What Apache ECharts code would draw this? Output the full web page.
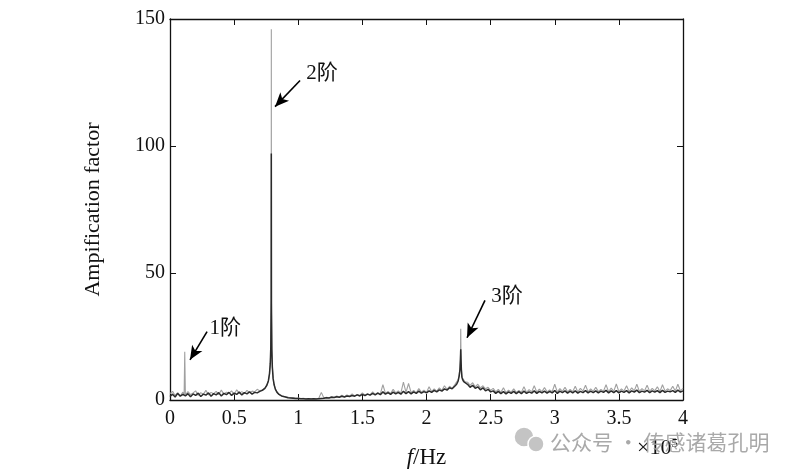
<!DOCTYPE html>
<html>
<head>
<meta charset="utf-8">
<script src="https://cdn.jsdelivr.net/npm/echarts/dist/echarts.min.js"></script>
<style>
html,body{margin:0;padding:0;background:#fff;}
#main{width:807px;height:476px;}
</style>
</head>
<body>
<div id="main"></div>
<script>
// frequency (x10^5 Hz)
var freq=[0,0.02,0.04,0.06,0.08,0.10,0.11,0.115,0.12,0.14,0.16,0.18,0.20,0.22,0.24,0.26,0.28,0.30,0.32,0.34,0.36,0.38,0.40,0.42,0.44,0.46,0.48,0.50,0.52,0.54,0.56,0.58,0.60,0.62,0.64,0.66,0.68,0.70,
    0.72,0.74,0.755,0.767,0.776,0.782,0.786,0.789,0.790,0.791,0.794,0.798,0.804,0.812,0.822,0.835,0.85,0.87,
    0.90,0.92,0.94,0.96,0.98,1.00,1.02,1.04,1.06,1.08,1.10,1.12,1.14,1.16,1.18,1.20,
    1.22,1.24,1.26,1.28,1.30,1.32,1.34,1.36,1.38,1.40,1.42,1.44,1.46,1.48,1.50,1.52,1.54,1.56,1.58,1.60,
    1.62,1.64,1.66,1.68,1.70,1.72,1.74,1.76,1.78,1.80,1.82,1.84,1.86,1.88,1.90,1.92,1.94,1.96,1.98,2.00,
    2.02,2.04,2.06,2.08,2.10,2.12,2.14,2.16,2.18,2.20,2.22,
    2.235,2.247,2.255,2.261,2.265,2.267,2.269,2.272,2.276,2.282,2.29,2.30,
    2.32,2.34,2.36,2.38,2.40,2.42,2.44,2.46,2.48,2.50,
    2.52,2.54,2.56,2.58,2.60,2.62,2.64,2.66,2.68,2.70,
    2.72,2.74,2.76,2.78,2.80,2.82,2.84,2.86,2.88,2.90,
    2.92,2.94,2.96,2.98,3.00,3.02,3.04,3.06,3.08,3.10,
    3.12,3.14,3.16,3.18,3.20,3.22,3.24,3.26,3.28,3.30,
    3.32,3.34,3.36,3.38,3.40,3.42,3.44,3.46,3.48,3.50,
    3.52,3.54,3.56,3.58,3.60,3.62,3.64,3.66,3.68,3.70,
    3.72,3.74,3.76,3.78,3.80,3.82,3.84,3.86,3.88,3.90,
    3.92,3.94,3.96,3.98,4.00];
// light grey curve
var greyVal=[2.5,3.4,1.8,2.9,1.6,3.1,2.0,19.0,1.9,3.3,2.1,2.8,3.6,1.8,2.9,2.2,3.8,2.0,3.0,2.5,3.4,2.1,3.9,2.3,3.1,2.6,3.6,2.2,4.0,2.7,3.3,2.5,3.8,2.9,3.5,3.2,4.2,3.6,
    4.0,4.8,5.8,7.5,10,14,20,35,146,35,20,13,8.5,6,4.2,3.0,2.2,1.6,
    1.3,1.1,0.9,1.0,0.7,0.8,0.6,0.7,0.5,0.6,0.5,0.6,0.5,0.7,3.0,0.8,
    1.1,0.9,1.4,1.0,1.6,1.2,1.9,1.3,2.0,1.5,2.4,1.6,2.2,1.8,2.8,1.9,2.5,2.0,3.2,2.2,
    2.9,2.4,6.0,2.6,3.4,2.5,4.2,2.8,3.6,2.7,7.0,3.0,6.5,2.9,3.8,2.8,4.5,3.1,3.9,3.0,
    5.2,3.3,4.4,3.5,4.8,3.8,5.6,4.2,5.4,4.6,6.0,
    6.5,8,10,13,18,28,18,12,9.5,8.5,7.8,7.2,
    7.0,5.8,6.8,5.2,6.2,4.8,5.6,4.4,5.0,3.8,
    4.6,3.2,4.2,3.0,4.8,2.9,3.9,3.1,4.4,3.0,
    3.8,3.1,5.2,3.0,4.1,3.2,5.6,3.1,4.3,3.3,
    4.9,3.2,4.0,3.3,6.2,3.1,4.5,3.4,5.0,3.2,
    4.2,3.3,5.4,3.1,4.6,3.5,5.8,3.2,4.4,3.4,
    5.0,3.3,4.2,3.5,6.0,3.2,4.7,3.4,6.3,3.3,
    4.4,3.5,5.6,3.3,4.8,3.6,6.2,3.4,4.5,3.6,
    5.8,3.4,4.6,3.6,5.2,3.3,6.0,3.5,4.4,3.7,
    5.4,3.5,6.2,3.6,4.6];
// dark curve
var darkVal=[1.4,2.3,1.2,2.6,1.5,2.2,1.7,2.0,1.6,2.5,1.3,2.4,1.8,2.7,1.4,2.3,1.9,2.8,1.5,2.5,2.0,2.9,1.6,2.6,2.1,3.0,1.8,2.7,2.2,3.1,2.0,2.9,2.4,3.2,2.3,3.0,2.8,3.4,
    3.8,4.6,5.8,7.5,10.5,14.5,21,40,97,38,20,13,8.5,6,4.2,3.0,2.2,1.6,
    1.2,0.9,0.8,0.7,0.6,0.6,0.5,0.5,0.4,0.5,0.4,0.5,0.4,0.5,0.6,0.7,
    0.9,0.8,1.1,1.0,1.3,1.1,1.5,1.2,1.6,1.4,1.8,1.5,2.0,1.6,2.2,1.7,2.3,1.9,2.6,2.0,
    2.7,2.1,3.2,2.3,2.9,2.2,3.1,2.4,3.0,2.3,3.4,2.5,3.3,2.4,3.2,2.6,3.5,2.7,3.3,2.8,
    3.6,3.0,3.8,3.2,4.0,3.5,4.4,3.9,4.8,4.4,5.4,
    6.2,7.5,9.5,12,16,20,16,12,9,8,7.2,6.8,
    6.2,5.0,5.8,4.6,5.2,4.0,4.8,3.6,4.2,3.2,
    3.6,2.6,3.4,2.5,3.3,2.4,3.2,2.6,3.4,2.5,
    3.3,2.5,3.5,2.6,3.2,2.7,3.6,2.6,3.4,2.8,
    3.5,2.7,3.4,2.8,3.7,2.6,3.5,2.9,3.6,2.7,
    3.5,2.8,3.6,2.7,3.4,2.9,3.7,2.8,3.5,2.9,
    3.6,2.8,3.5,3.0,3.8,2.8,3.6,2.9,3.7,2.8,
    3.5,3.0,3.7,2.8,3.6,3.1,3.9,2.9,3.5,3.1,
    3.8,2.9,3.6,3.1,3.7,2.9,3.8,3.0,3.5,3.2,
    3.7,3.0,3.9,3.1,3.6];
var xTicks=[0,4,0.5];
var yTicks=[0,150,50];
// mode labels: text position, arrow tail, arrow head
var modeNames=['1阶','2阶','3阶'];
var modeText=[[0.43,28.1],[1.185,128.6],[2.628,40.8]];
var arrowFrom=[[0.289,26.9],[1.014,125.8],[2.456,39.2]];
var arrowTo=[[0.156,15.8],[0.819,115.5],[2.316,24.5]];

var serif="'Liberation Serif','Times New Roman','Noto Sans CJK SC',serif";
var greyData=[],darkData=[];
for(var i=0;i<freq.length;i++){
    greyData.push([freq[i],greyVal[i]]);
    darkData.push([freq[i],darkVal[i]]);
}
var arrowLines=[],labelPts=[];
for(var k=0;k<modeNames.length;k++){
    arrowLines.push([{coord:arrowFrom[k],symbol:'none'},{coord:arrowTo[k],symbol:'arrow',symbolSize:[9,14]}]);
    labelPts.push({name:modeNames[k],coord:modeText[k]});
}

var axisCommon={onZero:false,lineStyle:{color:'#111',width:1.3}};
var tickCommon={show:true,inside:true,length:6,lineStyle:{color:'#111'}};

var myChart=echarts.init(document.getElementById('main'));
var option={
    backgroundColor:'#fff',
    animation:false,
    grid:{left:170,right:124,top:19,bottom:76,show:false},
    xAxis:[{
        type:'value',min:xTicks[0],max:xTicks[1],interval:xTicks[2],
        name:'{i|f}/Hz',nameLocation:'middle',nameGap:46,
        nameTextStyle:{fontFamily:serif,fontSize:23,color:'#111',rich:{i:{fontStyle:'italic',fontFamily:serif,fontSize:23,color:'#111'}}},
        axisLine:axisCommon,axisTick:tickCommon,
        axisLabel:{fontFamily:serif,fontSize:20,color:'#111',margin:9},
        splitLine:{show:false}
    },{
        type:'value',position:'top',min:xTicks[0],max:xTicks[1],interval:xTicks[2],
        axisLine:axisCommon,axisTick:tickCommon,
        axisLabel:{show:false},splitLine:{show:false}
    }],
    yAxis:[{
        type:'value',min:yTicks[0],max:yTicks[1],interval:yTicks[2],
        name:'Ampification factor',nameLocation:'middle',nameGap:66,
        nameTextStyle:{fontFamily:serif,fontSize:22,color:'#111'},
        axisLine:{show:true,onZero:false,lineStyle:{color:'#111',width:1.3}},axisTick:tickCommon,
        axisLabel:{fontFamily:serif,fontSize:20,color:'#111',margin:5},
        splitLine:{show:false}
    },{
        type:'value',position:'right',min:yTicks[0],max:yTicks[1],interval:yTicks[2],
        axisLine:{show:true,onZero:false,lineStyle:{color:'#111',width:1.3}},axisTick:tickCommon,
        axisLabel:{show:false},splitLine:{show:false}
    }],
    series:[{
        type:'line',data:greyData,symbol:'none',
        lineStyle:{color:'#a0a0a0',width:1.1}
    },{
        type:'line',data:darkData,symbol:'none',
        lineStyle:{color:'#2b2b2b',width:1.5},
        markLine:{
            silent:true,symbol:['none','arrow'],symbolSize:14,
            lineStyle:{color:'#000',width:1.6,type:'solid'},
            label:{show:false},
            data:arrowLines
        },
        markPoint:{
            silent:true,symbol:'circle',symbolSize:0,
            label:{show:true,formatter:'{b}',fontFamily:serif,fontSize:21,color:'#111'},
            data:labelPts
        }
    }],
    graphic:[{
        type:'text',left:637,top:437,
        style:{text:'×10{s|5}',font:"22px "+serif,fill:'#111',
            rich:{s:{fontSize:13,fontFamily:serif,fill:'#111',verticalAlign:'top',padding:[0,0,10,0]}}}
    },{
        type:'circle',shape:{cx:524,cy:437,r:10},style:{fill:'#c4c4c4',stroke:'#fff',lineWidth:1.5}
    },{
        type:'circle',shape:{cx:536,cy:444,r:8},style:{fill:'#c4c4c4',stroke:'#fff',lineWidth:1.5}
    },{
        type:'text',left:550,top:432,
        style:{text:'公众号 · 传感诸葛孔明',font:"21px 'Noto Sans CJK SC',sans-serif",fill:'rgba(160,160,160,0.9)'}
    }]
};
myChart.setOption(option);
</script>
</body>
</html>
